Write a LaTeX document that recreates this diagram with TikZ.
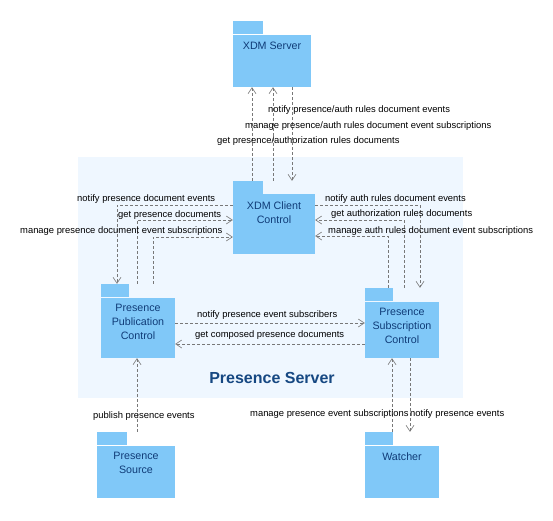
\documentclass[tikz,border=0pt]{standalone}
\usepackage{fontspec}
\setmainfont{Liberation Sans}
\usetikzlibrary{arrows.meta}
\definecolor{pkgfill}{RGB}{128,200,248}
\definecolor{pkgtext}{RGB}{16,60,120}
\definecolor{srvbg}{RGB}{239,247,255}
\definecolor{srvtext}{RGB}{22,72,130}
\definecolor{conn}{RGB}{120,120,120}
\tikzset{
  body/.style={fill=pkgfill, draw=none, inner sep=0pt, anchor=center},
  tab/.style={fill=pkgfill, draw=none, inner sep=0pt, minimum width=#1, minimum height=13pt},
  ptext/.style={text=pkgtext, align=center, inner sep=0pt, font=\fontsize{10.7}{14}\selectfont},
  lbl/.style={anchor=west, inner sep=0pt, font=\fontsize{9.4}{11}\selectfont, text=black, yshift=-1.5pt},
  dep/.style={draw=conn, line width=0.7pt, dash pattern=on 3pt off 2pt,
    -{Straight Barb[length=6pt,width=8pt,line width=0.6pt]}},
}
\begin{document}
\begin{tikzpicture}[x=1pt,y=-1pt]
\useasboundingbox (0,0) rectangle (553,520);
% presence server background
\node[fill=srvbg, inner sep=0pt, minimum width=385pt, minimum height=241pt] (srv) at (270.5,277.5) {};
\node[text=srvtext, font=\fontsize{16}{18}\selectfont\bfseries] (srvlbl) at (272,378) {Presence Server};

% packages
\node[body, minimum width=78pt, minimum height=52pt] (xdms) at (272,61) {};
\node[tab=30pt] (xdmstab) at (248,27.5) {};
\node[ptext, anchor=north] (xdmst) at ([yshift=-7.5pt]xdms.north) {XDM Server};

\node[body, minimum width=82pt, minimum height=60pt] (xdmc) at (274,224) {};
\node[tab=30pt] (xdmctab) at (248,187.5) {};
\node[ptext, anchor=north] (xdmct) at ([yshift=-7.5pt]xdmc.north) {XDM Client\\Control};

\node[body, minimum width=74pt, minimum height=60pt] (pub) at (138,328) {};
\node[tab=28pt] (pubtab) at (115,290.5) {};
\node[ptext, anchor=north] (pubt) at ([yshift=-6.5pt]pub.north) {Presence\\Publication\\Control};

\node[body, minimum width=74pt, minimum height=56pt] (sub) at (402,330) {};
\node[tab=28pt] (subtab) at (379,294.5) {};
\node[ptext, anchor=north] (subt) at ([yshift=-6.5pt]sub.north) {Presence\\Subscription\\Control};

\node[body, minimum width=78pt, minimum height=52pt] (src) at (136,472) {};
\node[tab=30pt] (srctab) at (112,438.5) {};
\node[ptext, anchor=north] (srct) at ([yshift=-6.5pt]src.north) {Presence\\Source};

\node[body, minimum width=74pt, minimum height=52pt] (wat) at (402,472) {};
\node[tab=28pt] (wattab) at (379,438.5) {};
\node[ptext, anchor=north] (watt) at ([yshift=-6.5pt]wat.north) {Watcher};

% XDM client <-> XDM server
\draw[dep] ([xshift=4pt]xdmctab.north) -- ([xshift=-20pt]xdms.south);
\draw[dep] ([xshift=25pt]xdmctab.north) -- ([xshift=1pt]xdms.south);
\draw[dep] ([xshift=20pt]xdms.south) -- ([xshift=44pt]xdmctab.north);
\node[lbl] (l1) at (268,109) {notify presence/auth rules document events};
\node[lbl] (l2) at (245,125) {manage presence/auth rules document event subscriptions};
\node[lbl] (l3) at (217,140) {get presence/authorization rules documents};

% left side
\draw[dep] ([yshift=19pt]xdmc.west) -| ([xshift=2pt]pubtab.north);
\draw[dep] ([xshift=22pt]pubtab.north) |- ([yshift=4pt]xdmc.west);
\draw[dep] ([xshift=38pt]pubtab.north) |- ([yshift=-13pt]xdmc.west);
\node[lbl] (l4) at (77,198) {notify presence document events};
\node[lbl] (l5) at (118,214) {get presence documents};
\node[lbl] (l6) at (20,230) {manage presence document event subscriptions};

% right side
\draw[dep] ([yshift=19pt]xdmc.east) -| ([xshift=41pt]subtab.north);
\draw[dep] ([xshift=25pt]subtab.north) |- ([yshift=4pt]xdmc.east);
\draw[dep] ([xshift=9pt]subtab.north) |- ([yshift=-12pt]xdmc.east);
\node[lbl] (l7) at (325,198) {notify auth rules document events};
\node[lbl] (l8) at (331,213) {get authorization rules documents};
\node[lbl] (l9) at (328,230) {manage auth rules document event subscriptions};

% middle
\draw[dep] ([yshift=5pt]pub.east) -- ([yshift=7pt]sub.west);
\draw[dep] ([yshift=-14pt]sub.west) -- ([yshift=-16pt]pub.east);
\node[lbl] (l10) at (197,314) {notify presence event subscribers};
\node[lbl] (l11) at (195,334) {get composed presence documents};

% bottom
\draw[dep] ([xshift=25pt]srctab.north) -- ([xshift=-1pt]pub.south);
\draw[dep] ([xshift=13pt]wattab.north) -- ([xshift=-10pt]sub.south);
\draw[dep] ([xshift=8pt]sub.south) -- ([xshift=31pt]wattab.north);
\node[lbl] (l12) at (93,415) {publish presence events};
\node[lbl] (l13) at (250,413) {manage presence event subscriptions};
\node[lbl] (l14) at (410,413) {notify presence events};
\end{tikzpicture}
\end{document}
